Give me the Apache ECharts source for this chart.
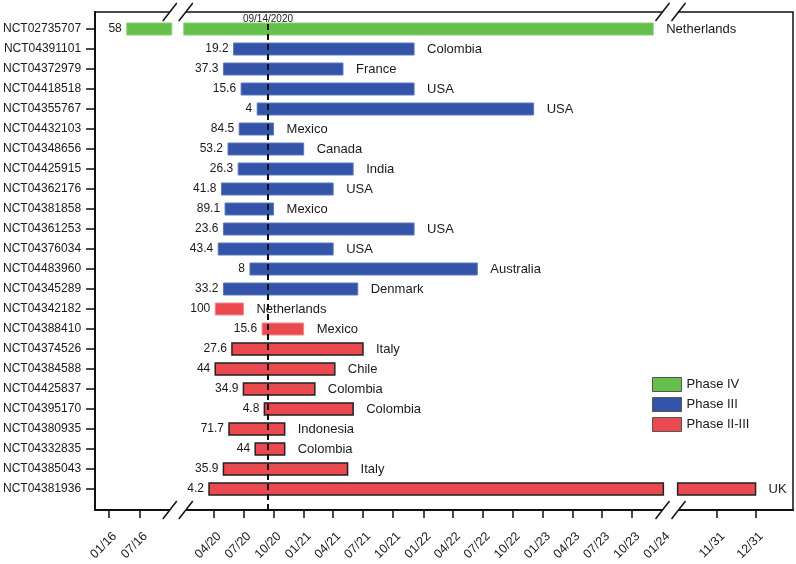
<!DOCTYPE html>
<html><head><meta charset="utf-8">
<script src="https://cdn.jsdelivr.net/npm/echarts@6/dist/echarts.min.js"></script>
<style>html,body{margin:0;padding:0;background:#fff}#c{width:796px;height:564px}</style>
</head><body><div id="c"></div>
<script>
// ---------------- DATA ----------------
const trialIds = ['NCT02735707','NCT04391101','NCT04372979','NCT04418518','NCT04355767','NCT04432103',
  'NCT04348656','NCT04425915','NCT04362176','NCT04381858','NCT04361253','NCT04376034','NCT04483960',
  'NCT04345289','NCT04342182','NCT04388410','NCT04374526','NCT04384588','NCT04425837','NCT04395170',
  'NCT04380935','NCT04332835','NCT04385043','NCT04381936'];
const phases = ['IV','III','III','III','III','III','III','III','III','III','III','III','III','III',
  'II-III','II-III','II-III','II-III','II-III','II-III','II-III','II-III','II-III','II-III'];
const startDates = ['2016-04-15','2020-06-01','2020-05-01','2020-06-24','2020-08-12','2020-06-18',
  '2020-05-15','2020-06-15','2020-04-25','2020-05-06','2020-05-01','2020-04-15','2020-07-21',
  '2020-05-01','2020-04-06','2020-08-27','2020-05-27','2020-04-06','2020-07-01','2020-09-03',
  '2020-05-18','2020-08-06','2020-05-01','2020-03-18'];
const endDates = ['2023-12-04','2021-12-04','2021-05-01','2021-12-04','2022-12-04','2020-10-01',
  '2021-01-01','2021-06-01','2021-04-01','2020-10-01','2021-12-04','2021-04-01','2022-06-15',
  '2021-06-15','2020-07-01','2021-01-01','2021-07-01','2021-04-06','2021-02-04','2021-06-01',
  '2020-11-04','2020-11-04','2021-05-15','2031-12-01'];
const enrollment = ['58','19.2','37.3','15.6','4','84.5','53.2','26.3','41.8','89.1','23.6','43.4','8',
  '33.2','100','15.6','27.6','44','34.9','4.8','71.7','44','35.9','4.2'];
const countries = ['Netherlands','Colombia','France','USA','USA','Mexico','Canada','India','USA','Mexico',
  'USA','USA','Australia','Denmark','Netherlands','Mexico','Italy','Chile','Colombia','Colombia',
  'Indonesia','Colombia','Italy','UK'];
const tickLabels = ['01/16','07/16','04/20','07/20','10/20','01/21','04/21','07/21','10/21','01/22',
  '04/22','07/22','10/22','01/23','04/23','07/23','10/23','01/24','11/31','12/31'];
const tickDates = ['2016-01-01','2016-07-01','2020-04-01','2020-07-01','2020-10-01','2021-01-01',
  '2021-04-01','2021-07-01','2021-10-01','2022-01-01','2022-04-01','2022-07-01','2022-10-01',
  '2023-01-01','2023-04-01','2023-07-01','2023-10-01','2024-01-01','2031-11-01','2031-12-01'];
const cutoffDate = '2020-09-14';
const cutoffLabel = '09/14/2020';
const phaseKeys = ['IV','III','II-III'];
const phaseNames = ['Phase IV','Phase III','Phase II-III'];

// ---------------- STYLE ----------------
const FONT = '"Liberation Sans", Arial, Helvetica, sans-serif';
const phaseColors = {'IV':'#64c04a','III':'#3354a8','II-III':'#ea4a4f'};
const phaseStroke = {'IV':'#86d06f','III':'#5d78bd','II-III':'#222'};
const softOutlineRows = [14, 15];
const TXT = '#1a1a1a';

// broken axis: each segment maps dates linearly onto the value axis (units = months of middle segment)
const MONTH = 30.4375 * 86400000;
const segments = [
  {from:'2015-10-01', to:'2017-01-06', ref:'2016-01-01', refU:-7.5, perMonth:0.5167},
  {from:'2020-01-01', to:'2024-01-04', ref:'2020-01-01', refU:0, perMonth:1},
  {from:'2031-10-01', to:'2032-01-31', ref:'2031-11-01', refU:53.5, perMonth:3.9}
];
function t(d){ return Date.parse(d + 'T00:00:00Z'); }
function segU(s, ms){ return s.refU + (ms - t(s.ref)) / MONTH * s.perMonth; }
function toU(d){
  const ms = t(d);
  for (const s of segments) if (ms >= t(s.from) && ms <= t(s.to)) return segU(s, ms);
  return segU(segments[1], ms);
}
function pieces(sd, ed){
  const a = t(sd), b = t(ed), out = [];
  for (const s of segments){
    const lo = Math.max(a, t(s.from)), hi = Math.min(b, t(s.to));
    if (lo < hi) out.push([segU(s, lo), segU(s, hi)]);
  }
  return out;
}

const tickUs = tickDates.map(toU);
const rows = trialIds.map((_, i) => i);

function renderItem(params, api){
  const i = api.value(3);
  const ph = phases[i];
  const h = api.size([0, 1])[1] * 0.6;
  const children = [];
  const ps = pieces(startDates[i], endDates[i]);
  let first = null, last = null;
  const soft = softOutlineRows.indexOf(i) >= 0;
  ps.forEach(p => {
    const p0 = api.coord([p[0], i]), p1 = api.coord([p[1], i]);
    if (!first) first = p0;
    last = p1;
    children.push({type:'rect', shape:{x:p0[0], y:p0[1] - h/2, width:p1[0]-p0[0], height:h},
      style:{fill:phaseColors[ph], stroke: soft ? '#f08a8c' : phaseStroke[ph], lineWidth: (ph === 'II-III' && !soft) ? 1.5 : 1}});
  });
  children.push({type:'text', style:{text:enrollment[i], x:first[0]-5, y:first[1], align:'right', verticalAlign:'middle',
    fontSize:12, fontFamily:FONT, fill:TXT}});
  children.push({type:'text', style:{text:countries[i], x:last[0]+13, y:last[1], align:'left', verticalAlign:'middle',
    fontSize:13, fontFamily:FONT, fill:TXT}});
  return {type:'group', children};
}

const series = phaseKeys.map((k, pi) => ({
  name: phaseNames[pi],
  type: 'custom',
  renderItem,
  clip: false,
  itemStyle: {color: phaseColors[k], borderColor: pi === 2 ? '#555' : phaseStroke[k], borderWidth: 1},
  encode: {x: [0, 2], y: 1},
  data: rows.filter(i => phases[i] === k).map(i => [toU(startDates[i]), i, toU(endDates[i]), i])
}));
const cu = toU(cutoffDate);
series.push({
  type: 'line', data: [], silent: true,
  markLine: {
    symbol: 'none', silent: true, animation: false,
    lineStyle: {type: [6, 4], width: 2, color: '#111'},
    label: {show: true, position: 'end', formatter: cutoffLabel, fontSize: 10, fontFamily: FONT, color: TXT, distance: -2},
    data: [[{coord: [cu, 24.05]}, {coord: [cu, -0.35]}]]
  }
});

const chart = echarts.init(document.getElementById('c'), null, {renderer: 'canvas'});
chart.setOption({
  animation: false,
  backgroundColor: '#fff',
  textStyle: {fontFamily: FONT},
  grid: {left: 93, right: 3, top: 12, bottom: 54, show: true, borderColor: '#111', borderWidth: 1.5, containLabel: false},
  legend: {
    data: phaseNames, orient: 'vertical', left: 652, top: 377, itemWidth: 29, itemHeight: 14, itemGap: 5,
    icon: 'rect', padding: 0, textStyle: {fontSize: 13, color: TXT, fontFamily: FONT},
    itemStyle: {borderColor: '#555', borderWidth: 1}
  },
  xAxis: {
    type: 'value', min: -8.9, max: 61.1,
    axisLine: {show: true, onZero: false, lineStyle: {color: '#111', width: 2}},
    axisTick: {show: true, length: 8, lineStyle: {color: '#111', width: 1.5},
      customValues: tickUs.filter((_, k) => tickLabels[k] !== '01/24')},
    axisLabel: {customValues: tickUs, rotate: 45, fontSize: 12.5, color: TXT, margin: 30, fontFamily: FONT,
      padding: [0, -8, 0, 0],
      formatter: v => { let b = 0; tickUs.forEach((u, k) => { if (Math.abs(u - v) < Math.abs(tickUs[b] - v)) b = k; }); return tickLabels[b]; }},
    splitLine: {show: false}
  },
  yAxis: {
    type: 'value', inverse: true, min: -0.85, max: 24.05,
    axisLine: {show: true, onZero: false, lineStyle: {color: '#111', width: 2}},
    axisTick: {show: true, length: 9, customValues: rows, lineStyle: {color: '#111', width: 1.5}},
    axisLabel: {customValues: rows, fontSize: 12, color: TXT, margin: 14, fontFamily: FONT,
      formatter: v => trialIds[Math.round(v)]},
    splitLine: {show: false}
  },
  series
});

// break marks on the axis frame
function breakGraphics(){
  const g = [];
  const centers = [
    (segU(segments[0], t(segments[0].to)) + segU(segments[1], t(segments[1].from))) / 2,
    (segU(segments[1], t(segments[1].to)) + segU(segments[2], t(segments[2].from))) / 2
  ];
  const yTop = chart.convertToPixel({gridIndex: 0}, [0, -0.85])[1];
  const yBot = chart.convertToPixel({gridIndex: 0}, [0, 24.05])[1];
  centers.forEach(cuv => {
    const cx = chart.convertToPixel({gridIndex: 0}, [cuv, 0])[0];
    [yTop, yBot].forEach(y => {
      const dx = 7, dy = 9, off = 8;
      g.push({type: 'polygon', z: 100, silent: true,
        shape: {points: [[cx-off-dx, y+dy], [cx-off+dx, y-dy], [cx+off+dx, y-dy], [cx+off-dx, y+dy]]},
        style: {fill: '#fff'}});
      [-off, off].forEach(o => g.push({type: 'line', z: 101, silent: true,
        shape: {x1: cx+o-dx, y1: y+dy, x2: cx+o+dx, y2: y-dy}, style: {stroke: '#111', lineWidth: 1.5}}));
    });
  });
  return g;
}
chart.setOption({graphic: breakGraphics()});
</script>
</body></html>
